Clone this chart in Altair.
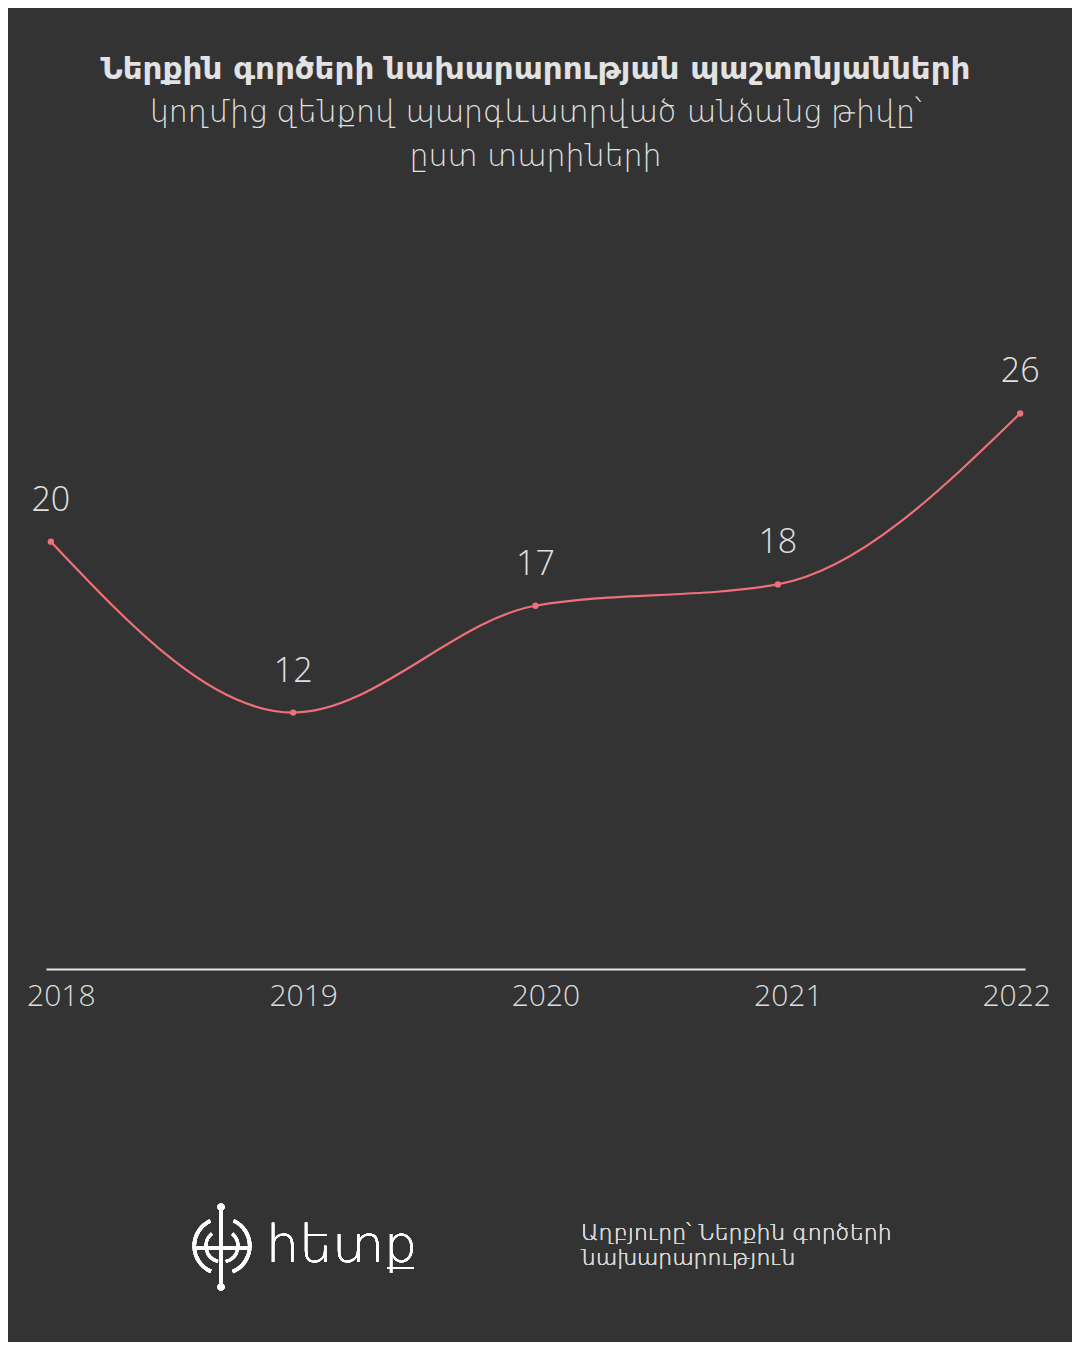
import altair as alt
import pandas as pd

years = ["2018", "2019", "2020", "2021", "2022"]
values = [20, 12, 17, 18, 26]

title_line = "Ներքին գործերի նախարարության պաշտոնյանների"
subtitle_lines = ["կողմից զենքով պարգևատրված անձանց թիվը՝", "ըստ տարիների"]
source_text = "Աղբյուրը՝ Ներքին գործերի\nնախարարություն"
logo_word = "հետք"

BG = "#333333"
TXT = "#e2e2e2"
LINE = "#f0707a"
ARM_FONT = "DejaVu Sans"
NUM_FONT = "Open Sans"

df = pd.DataFrame({"year": years, "value": values})

xenc = alt.X("year:O", scale=alt.Scale(type="point", padding=0.02),
             axis=alt.Axis(title=None, labelAngle=0, ticks=False, grid=False,
                           domainColor="#e6e6e6", domainWidth=2,
                           labelColor="#dcdcdc", labelFont=NUM_FONT, labelFontSize=30,
                           labelFontWeight=300, labelPadding=12,
                           labelOffset=alt.ExprRef("datum.label == '2022' ? -4 : 10")))
yenc = alt.Y("value:Q", scale=alt.Scale(domain=[0, 30], nice=False), axis=None)

line = alt.Chart(df).mark_line(color=LINE, strokeWidth=2.2, interpolate="monotone").encode(x=xenc, y=yenc)
pts = alt.Chart(df).mark_point(color=LINE, filled=True, opacity=1, size=40).encode(x=xenc, y=yenc)
labels = alt.Chart(df).mark_text(color="#e0e0e0", font=NUM_FONT, fontSize=34, fontWeight=300,
                                 baseline="bottom", dy=-24).encode(x=xenc, y=yenc, text="value:Q")

source = alt.Chart(df).mark_text(align="left", baseline="middle", font=ARM_FONT, fontSize=22,
                                 fontWeight=300, lineHeight=25, color="#d6d6d6",
                                 lineBreak="\n").encode(
    x=alt.value(535), y=alt.value(905), text=alt.value(source_text))

logo_txt = alt.Chart(df).mark_text(align="left", baseline="alphabetic", font="DejaVu Sans",
                                   fontWeight=200, fontSize=52, color="#ffffff").encode(
    x=alt.value(220), y=alt.value(934), text=alt.value(logo_word))

def arc(r_in, r_out, t1, t2):
    return alt.Chart(df).mark_arc(color="#ffffff", radius=r_out, radius2=r_in,
                                  theta=t1, theta2=t2).encode(x=alt.value(176), y=alt.value(918))

arcs = [arc(26, 29.5, 3.55, 5.85), arc(26, 29.5, 0.43, 2.75),
        arc(14.5, 17.5, 3.4, 5.6), arc(14.5, 17.5, 0.7, 2.9)]

vline = alt.Chart(df).mark_rule(color="#ffffff", strokeWidth=3).encode(
    x=alt.value(175), y=alt.value(878), y2=alt.value(960))
hline = alt.Chart(df).mark_rule(color="#ffffff", strokeWidth=3).encode(
    x=alt.value(150), x2=alt.value(204), y=alt.value(920))
dots = [alt.Chart(df).mark_point(filled=True, color="#ffffff", opacity=1, size=50).encode(
    x=alt.value(175), y=alt.value(yy)) for yy in (879, 959)]

chart = alt.layer(line, pts, labels, source, logo_txt, *arcs, vline, hline, *dots).properties(
    width=979, height=641,
    autosize=alt.AutoSizeParams(type="none"),
    padding={"left": 38, "top": 320, "right": 47, "bottom": 373},
    background=BG,
    title=alt.TitleParams(text=title_line, subtitle=subtitle_lines, anchor="middle",
                          font=ARM_FONT, fontSize=31, fontWeight="bold", color=TXT,
                          subtitleFont=ARM_FONT, subtitleFontSize=30, subtitleFontWeight=300,
                          subtitleColor=TXT, subtitleLineHeight=44, subtitlePadding=12,
                          offset=155),
).configure_view(stroke=None)

chart.save("out.html", embed_options={"renderer": "svg", "actions": False})
